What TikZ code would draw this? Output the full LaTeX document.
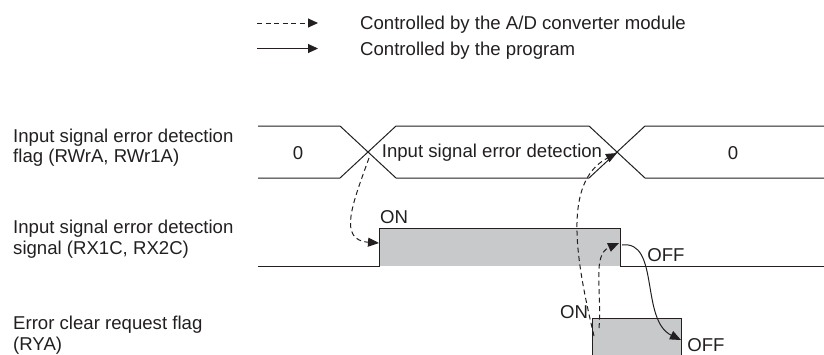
\documentclass[tikz,border=0pt]{standalone}
\usepackage{fontspec}
\setmainfont{Liberation Sans}
\usetikzlibrary{arrows.meta}
\definecolor{ink}{RGB}{35,31,32}
\definecolor{sigfill}{RGB}{200,201,203}
\begin{document}
\begin{tikzpicture}[x=1pt,y=-1pt,
  txt/.style={inner sep=0pt,text=ink,font=\fontsize{18.6}{20.5}\selectfont},
  legtxt/.style={txt,anchor=base west},
  lbl/.style={txt,align=left,anchor=base west},
  wave/.style={draw=ink,line width=1pt},
  ctl/.style={draw=ink,line width=1pt,-{Triangle[length=11pt,width=9pt]}},
  ctldash/.style={ctl,dash pattern=on 5pt off 3.5pt},
  legarrow/.style={draw=ink,line width=1pt,-{Triangle[length=10pt,width=9pt]}}]
\useasboundingbox (0,0) rectangle (824,354);
% legend
\coordinate (l1s) at (257,23); \coordinate (l1e) at (318,23);
\coordinate (l2s) at (257,48.5); \coordinate (l2e) at (318,48.5);
\draw[legarrow,dash pattern=on 5pt off 3.5pt] (l1s) -- (l1e);
\draw[legarrow] (l2s) -- (l2e);
\node[legtxt] (leg1) at (360,29.5) {Controlled by the A/D converter module};
\node[legtxt] (leg2) at (360,55) {Controlled by the program};
% left labels (anchor = baseline of last line)
\node[lbl] (lab1) at (13,162.5) {Input signal error detection\\flag (RWrA, RWr1A)};
\node[lbl] (lab2) at (13,254) {Input signal error detection\\signal (RX1C, RX2C)};
\node[lbl] (lab3) at (13,350) {Error clear request flag\\(RYA)};
% bus (RWrA)
\draw[wave] (258,126) -- (340,126) -- (396,178) -- (589,178) -- (645,126) -- (824,126);
\draw[wave] (258,178) -- (340,178) -- (396,126) -- (589,126) -- (645,178) -- (824,178);
\coordinate (x1) at (368,152);
\coordinate (x2) at (617,152);
\node[txt] (v0a) at (298,153) {0};
\node[txt] (vdet) at (492,153) {Input signal error detection};
\node[txt] (v0b) at (733,153) {0};
% RX1C signal
\fill[sigfill] (379,228) rectangle (620,266);
\draw[wave] (258,266) -- (379,266) -- (379,228) -- (620,228) -- (620,266) -- (824,266);
\node[txt] (on1) at (394,217) {ON};
\node[txt] (off1) at (666,255) {OFF};
% RYA signal
\fill[sigfill] (592,318) rectangle (681,360);
\draw[wave] (592,360) -- (592,318) -- (681,318) -- (681,360);
\node[txt] (on2) at (574,312) {ON};
\node[txt] (off2) at (706,345) {OFF};
% control arrows
\coordinate (a1s) at (369,158); \coordinate (a1e) at (379,243);
\coordinate (a2s) at (594,336); \coordinate (a2e) at (617,153);
\coordinate (a3s) at (599,328); \coordinate (a3e) at (619,243);
\coordinate (a4s) at (622,245); \coordinate (a4e) at (681,340);
\draw[ctldash] (a1s) .. controls (352,205) and (338,240) .. (a1e);
\draw[ctldash] (a2s) .. controls (576,260) and (562,182) .. (a2e);
\draw[ctldash] (a3s) .. controls (602,290) and (592,255) .. (a3e);
\draw[ctl] (a4s) .. controls (660,240) and (640,320) .. (a4e);
\end{tikzpicture}
\end{document}
